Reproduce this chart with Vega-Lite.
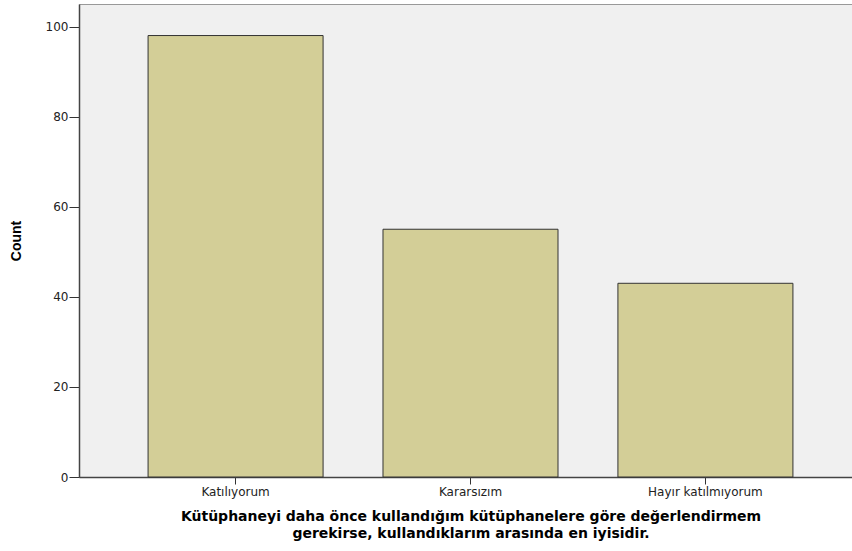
{
  "$schema": "https://vega.github.io/schema/vega-lite/v6.json",
  "autosize": {"type": "none"},
  "width": 783,
  "height": 473,
  "padding": {"left": 79, "top": 4, "right": 0, "bottom": 74},
  "background": "white",
  "config": {
    "view": {"fill": "#F0F0F0", "stroke": "#999999", "strokeWidth": 1},
    "font": "DejaVu Sans"
  },
  "data": {
    "values": [
      {"category": "Katılıyorum", "count": 98},
      {"category": "Kararsızım", "count": 55},
      {"category": "Hayır katılmıyorum", "count": 43}
    ]
  },
  "mark": {"type": "bar", "fill": "#D3CE97", "stroke": "#333333", "strokeWidth": 1},
  "encoding": {
    "x": {
      "field": "category",
      "type": "nominal",
      "sort": null,
      "scale": {"paddingInner": 0.255, "paddingOuter": 0.294},
      "axis": {
        "title": ["Kütüphaneyi daha önce kullandığım kütüphanelere göre değerlendirmem", "gerekirse, kullandıklarım arasında en iyisidir."],
        "titleFont": "DejaVu Sans",
        "titleFontSize": 14,
        "titleFontWeight": "bold",
        "titleColor": "#000000",
        "titleLineHeight": 17,
        "titlePadding": 12,
        "labelAngle": 0,
        "labelFont": "DejaVu Sans",
        "labelFontSize": 12,
        "labelColor": "#222222",
        "labelPadding": 2,
        "tickSize": 7,
        "tickColor": "#333333",
        "domainColor": "#444444",
        "domainWidth": 1.5
      }
    },
    "y": {
      "field": "count",
      "type": "quantitative",
      "scale": {"domain": [0, 105], "nice": false},
      "axis": {
        "title": "Count",
        "titleFont": "Liberation Sans",
        "titleFontSize": 14,
        "titleFontWeight": "bold",
        "titleColor": "#000000",
        "titlePadding": 22,
        "values": [0, 20, 40, 60, 80, 100],
        "labelFont": "DejaVu Sans",
        "labelFontSize": 12,
        "labelColor": "#222222",
        "labelPadding": 1,
        "tickSize": 10,
        "tickColor": "#333333",
        "domainColor": "#444444",
        "domainWidth": 1.5,
        "grid": false
      }
    }
  }
}
